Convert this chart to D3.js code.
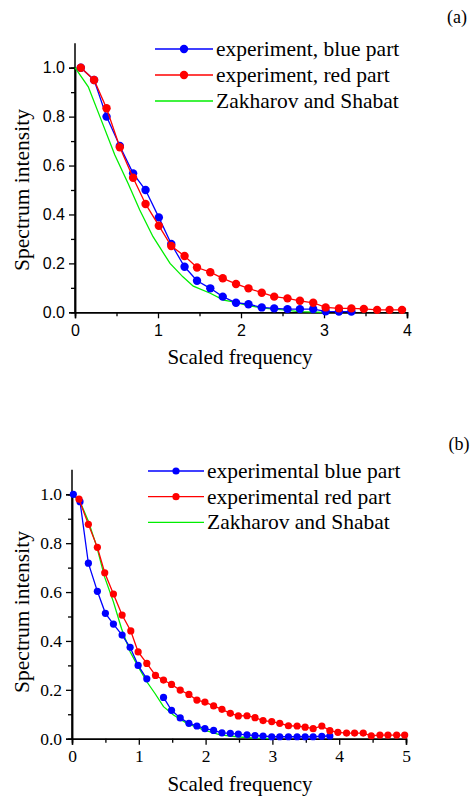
<!DOCTYPE html>
<html>
<head>
<meta charset="utf-8">
<script src="https://cdn.jsdelivr.net/npm/d3@7"></script>
<style>
  body { margin: 0; background: #fff; }
  .serif { font-family: "Liberation Serif"; }
  .sans { font-family: "Liberation Sans"; }
</style>
</head>
<body>
<script>
// Panel (a) data
const aBlueX = [0.07, 0.23, 0.38, 0.54, 0.70, 0.85, 1.01, 1.16, 1.32, 1.47, 1.63, 1.78, 1.94, 2.09, 2.25, 2.40, 2.56, 2.71, 2.87, 3.02, 3.18, 3.33];
const aBlueY = [1.0, 0.95, 0.80, 0.68, 0.568, 0.50, 0.388, 0.279, 0.186, 0.129, 0.098, 0.064, 0.039, 0.033, 0.02, 0.016, 0.013, 0.013, 0.013, 0.004, 0.003, 0.003];
const aRedX = [0.07, 0.23, 0.38, 0.54, 0.70, 0.85, 1.01, 1.16, 1.32, 1.47, 1.63, 1.78, 1.94, 2.09, 2.25, 2.40, 2.56, 2.71, 2.87, 3.02, 3.18, 3.33, 3.48, 3.64, 3.79, 3.94];
const aRedY = [1.0, 0.95, 0.834, 0.675, 0.55, 0.443, 0.354, 0.271, 0.23, 0.183, 0.164, 0.139, 0.116, 0.098, 0.08, 0.064, 0.057, 0.047, 0.039, 0.02, 0.016, 0.016, 0.014, 0.01, 0.01, 0.01];
const aGreenX = [0, 0.16, 0.30, 0.48, 0.64, 0.78, 0.94, 1.145, 1.30, 1.425, 1.63, 1.79, 1.91, 2.1, 2.3, 2.51, 2.7, 3.0];
const aGreenY = [1.0, 0.922, 0.80, 0.643, 0.527, 0.418, 0.309, 0.20, 0.145, 0.107, 0.078, 0.05, 0.043, 0.026, 0.016, 0.01, 0.003, 0.0];

// Panel (b) data (null = gap in the blue curve)
const bBlueX = [0.02, 0.12, 0.245, 0.38, 0.50, 0.62, 0.75, 0.87, 0.99, 1.12, 1.24, 1.37, 1.49, 1.62, 1.75, 1.87, 1.99, 2.12, 2.245, 2.37, 2.49, 2.62, 2.74, 2.86, 2.99, 3.11, 3.24, 3.37, 3.49, 3.61, 3.74, 3.86];
const bBlueY = [1.0, 0.97, 0.718, 0.603, 0.513, 0.469, 0.424, 0.374, 0.30, 0.245, null, 0.169, 0.116, 0.085, 0.063, 0.052, 0.041, 0.034, 0.024, 0.022, 0.019, 0.016, 0.013, 0.011, 0.008, 0.008, 0.008, 0.008, 0.008, 0.008, 0.01, 0.011];
const bRedX = [0.105, 0.245, 0.38, 0.49, 0.62, 0.75, 0.88, 0.99, 1.12, 1.25, 1.37, 1.49, 1.62, 1.75, 1.87, 1.99, 2.12, 2.245, 2.37, 2.49, 2.62, 2.74, 2.86, 2.99, 3.11, 3.24, 3.37, 3.49, 3.61, 3.74, 3.86, 3.98, 4.11, 4.23, 4.36, 4.48, 4.61, 4.73, 4.86, 4.98];
const bRedY = [0.98, 0.877, 0.783, 0.679, 0.592, 0.506, 0.441, 0.355, 0.308, 0.259, 0.240, 0.222, 0.199, 0.181, 0.158, 0.150, 0.134, 0.12, 0.104, 0.093, 0.094, 0.086, 0.074, 0.07, 0.063, 0.053, 0.052, 0.047, 0.041, 0.052, 0.033, 0.026, 0.023, 0.023, 0.023, 0.012, 0.015, 0.015, 0.015, 0.015];
const bGreenX = [0, 0.12, 0.245, 0.37, 0.49, 0.62, 0.74, 0.87, 0.99, 1.12, 1.24, 1.37, 1.52, 1.72, 1.97, 2.22, 2.5, 2.75, 3.0];
const bGreenY = [1.0, 0.97, 0.89, 0.786, 0.66, 0.56, 0.452, 0.356, 0.295, 0.233, 0.186, 0.131, 0.097, 0.063, 0.036, 0.016, 0.007, 0.002, 0.0];

const yTicks = [0, 0.2, 0.4, 0.6, 0.8, 1.0];
const aXTicks = [0, 1, 2, 3, 4];
const bXTicks = [0, 1, 2, 3, 4, 5];
const aLegend = ["experiment, blue part", "experiment, red part", "Zakharov and Shabat"];
const bLegend = ["experimental blue part", "experimental red part", "Zakharov and Shabat"];

const zip = (xs, ys) => xs.map((x, i) => ({ x: x, y: ys[i] }));

const svg = d3.select("body").append("svg")
  .attr("width", 475)
  .attr("height", 800);

function drawPanel(opt) {
  const x = d3.scaleLinear().domain([0, opt.xMax]).range([opt.left, opt.right]);
  const y = d3.scaleLinear().domain([0, 1]).range([opt.bottom, opt.top1]);
  const g = svg.append("g");

  // axes (major + minor ticks)
  g.append("g")
    .attr("transform", `translate(0,${opt.bottom})`)
    .call(d3.axisBottom(x).tickValues(opt.xTicks).tickFormat(d3.format("d")).tickSize(6).tickPadding(opt.xPad));
  g.append("g")
    .attr("transform", `translate(0,${opt.bottom})`)
    .call(d3.axisBottom(x).tickValues(d3.range(0.5, opt.xMax, 1)).tickFormat("").tickSize(4));
  g.append("g")
    .attr("transform", `translate(${opt.left},0)`)
    .call(d3.axisLeft(y).tickValues(yTicks).tickFormat(d3.format(".1f")).tickSize(6).tickPadding(4));
  g.append("g")
    .attr("transform", `translate(${opt.left},0)`)
    .call(d3.axisLeft(y).tickValues([0.1, 0.3, 0.5, 0.7, 0.9]).tickFormat("").tickSize(4));
  // y axis runs up to 1.1
  g.append("line")
    .attr("x1", opt.left).attr("x2", opt.left)
    .attr("y1", y(0)).attr("y2", y(1.1))
    .attr("stroke", "#000").attr("stroke-width", 1.5);

  g.selectAll(".domain").attr("stroke", "#000").attr("stroke-width", 1.5);
  g.selectAll(".tick line").attr("stroke", "#000").attr("stroke-width", 1.3);
  g.selectAll(".tick text")
    .attr("class", opt.tickFont)
    .style("font-size", opt.tickSize + "px")
    .attr("fill", "#000");

  // axis titles
  g.append("text")
    .attr("class", "serif")
    .attr("x", opt.xLabelX).attr("y", opt.xLabelY)
    .attr("text-anchor", "middle")
    .style("font-size", "21px")
    .text("Scaled frequency");
  g.append("text")
    .attr("class", "serif")
    .attr("transform", `translate(${opt.yLabelX},${opt.yLabelY}) rotate(-90)`)
    .attr("text-anchor", "middle")
    .style("font-size", "21.5px")
    .text("Spectrum intensity");

  // curves
  const line = d3.line()
    .defined((d) => d.y != null)
    .x((d) => x(d.x))
    .y((d) => y(d.y));

  const green = zip(opt.greenX, opt.greenY);
  const red = zip(opt.redX, opt.redY);
  const blue = zip(opt.blueX, opt.blueY);

  g.append("path").datum(green)
    .attr("fill", "none").attr("stroke", "#00ee00").attr("stroke-width", 1.3)
    .attr("d", line);

  [[blue, "#0000ff"], [red, "#ff0000"]].forEach(([data, color]) => {
    g.append("path").datum(data)
      .attr("fill", "none").attr("stroke", color).attr("stroke-width", 1.3)
      .attr("d", line);
    g.selectAll(null)
      .data(data.filter((d) => d.y != null))
      .enter()
      .append("circle")
      .attr("cx", (d) => x(d.x))
      .attr("cy", (d) => y(d.y))
      .attr("r", opt.r)
      .attr("fill", color);
  });

  // legend
  const colors = ["#0000ff", "#ff0000", "#00ee00"];
  opt.legend.forEach((label, i) => {
    const ly = opt.legY + i * opt.legStep;
    g.append("line")
      .attr("x1", opt.legX1).attr("x2", opt.legX2)
      .attr("y1", ly).attr("y2", ly)
      .attr("stroke", colors[i]).attr("stroke-width", 1.3);
    if (i < 2) {
      g.append("circle")
        .attr("cx", (opt.legX1 + opt.legX2) / 2).attr("cy", ly)
        .attr("r", opt.r).attr("fill", colors[i]);
    }
    g.append("text")
      .attr("class", "serif")
      .attr("x", opt.legX2 + 3).attr("y", ly)
      .attr("dy", "0.33em")
      .style("font-size", "21.5px")
      .text(label);
  });

  // panel tag
  g.append("text")
    .attr("class", "serif")
    .attr("x", opt.tagX).attr("y", opt.tagY)
    .attr("text-anchor", "middle")
    .style("font-size", "18px")
    .text(opt.tag);
}

drawPanel({
  xMax: 4, xTicks: aXTicks, left: 75, right: 407, bottom: 312.3, top1: 67.7,
  xPad: 6, tickFont: "sans", tickSize: 16,
  xLabelX: 240, xLabelY: 364, yLabelX: 29, yLabelY: 190,
  blueX: aBlueX, blueY: aBlueY, redX: aRedX, redY: aRedY, greenX: aGreenX, greenY: aGreenY,
  r: 4.2,
  legend: aLegend, legX1: 155, legX2: 213, legY: 49, legStep: 26,
  tag: "(a)", tagX: 457, tagY: 23
});

drawPanel({
  xMax: 5, xTicks: bXTicks, left: 72, right: 406, bottom: 738.7, top1: 494.3,
  xPad: 5, tickFont: "serif", tickSize: 17.5,
  xLabelX: 240, xLabelY: 791, yLabelX: 29, yLabelY: 612,
  blueX: bBlueX, blueY: bBlueY, redX: bRedX, redY: bRedY, greenX: bGreenX, greenY: bGreenY,
  r: 3.6,
  legend: bLegend, legX1: 148, legX2: 204, legY: 471, legStep: 25.7,
  tag: "(b)", tagX: 459, tagY: 450
});
</script>
</body>
</html>
